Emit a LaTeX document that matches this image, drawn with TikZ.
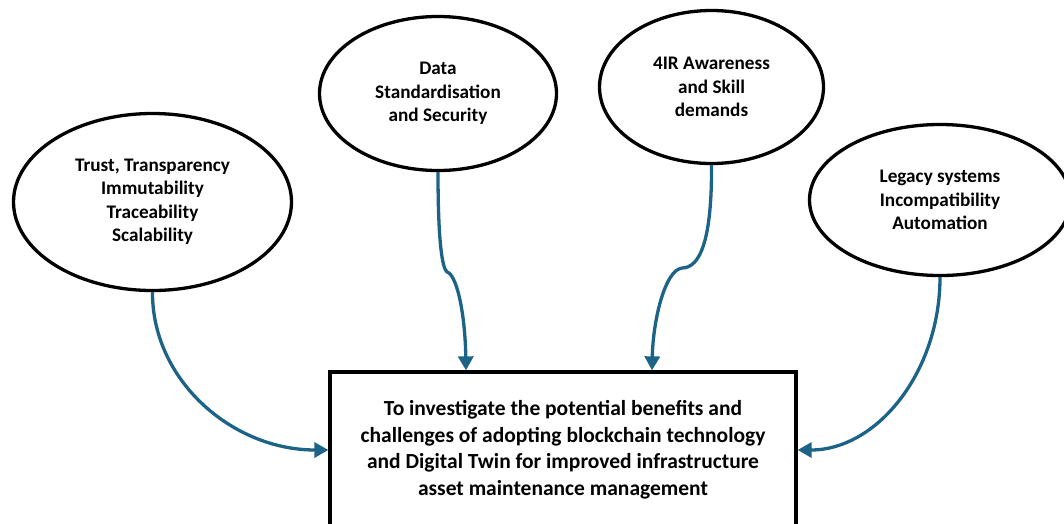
\documentclass[tikz,border=0pt]{standalone}
\usepackage{fontspec}
\setmainfont{Carlito}
\usetikzlibrary{shapes.geometric,arrows.meta}
\definecolor{arrowblue}{RGB}{28,99,135}
\tikzset{
  topic/.style={ellipse, draw=black, line width=3.3pt, fill=white, inner sep=0pt,
    align=center, font=\fontsize{19.2}{23.5}\selectfont\bfseries},
  goal/.style={rectangle, draw=black, line width=3.3pt, fill=white, inner sep=0pt,
    align=center, font=\fontsize{21.5}{26.5}\selectfont\bfseries},
  link/.style={draw=arrowblue, line width=3.3pt, -{Triangle[width=15pt,length=14pt]}}
}
\begin{document}
\begin{tikzpicture}[x=1pt,y=-1pt]
\useasboundingbox (0,0) rectangle (1064,523);
\clip (0,0) rectangle (1064,523);
\fill[white] (0,0) rectangle (1064,523);

\node[topic, minimum width=278pt, minimum height=177pt] (e1) at (152.5,202)
  {Trust, Transparency\\Immutability\\Traceability\\Scalability};
\node[topic, minimum width=237pt, minimum height=154pt] (e2) at (438,93.5)
  {Data\\Standardisation\\and Security};
\node[topic, minimum width=224pt, minimum height=153pt] (e3) at (711.5,87)
  {4IR Awareness\\and Skill\\demands};
\node[topic, minimum width=261pt, minimum height=151pt] (e4) at (940,200)
  {Legacy systems\\Incompatibility\\Automation};

\node[goal, minimum width=466pt, minimum height=156pt] (box) at (563,450)
  {To investigate the potential benefits and\\challenges of adopting blockchain technology\\and Digital Twin for improved infrastructure\\asset maintenance management};

\coordinate (k2) at (447,272);
\coordinate (k3) at (682,268);

\draw[link] (e1.south) .. controls (152,380) and (232,450) .. (box.west);
\draw[link] (e2.south) .. controls (438,240) and (442,268) .. (k2)
  .. controls (456,274) and (465,310) .. (box.north -| 466,0);
\draw[link] (e3.south) .. controls (712,240) and (700,268) .. (k3)
  .. controls (665,270) and (653,320) .. (box.north -| 652,0);
\draw[link] (e4.south) .. controls (940,372) and (877,450) .. (box.east);
\end{tikzpicture}
\end{document}
